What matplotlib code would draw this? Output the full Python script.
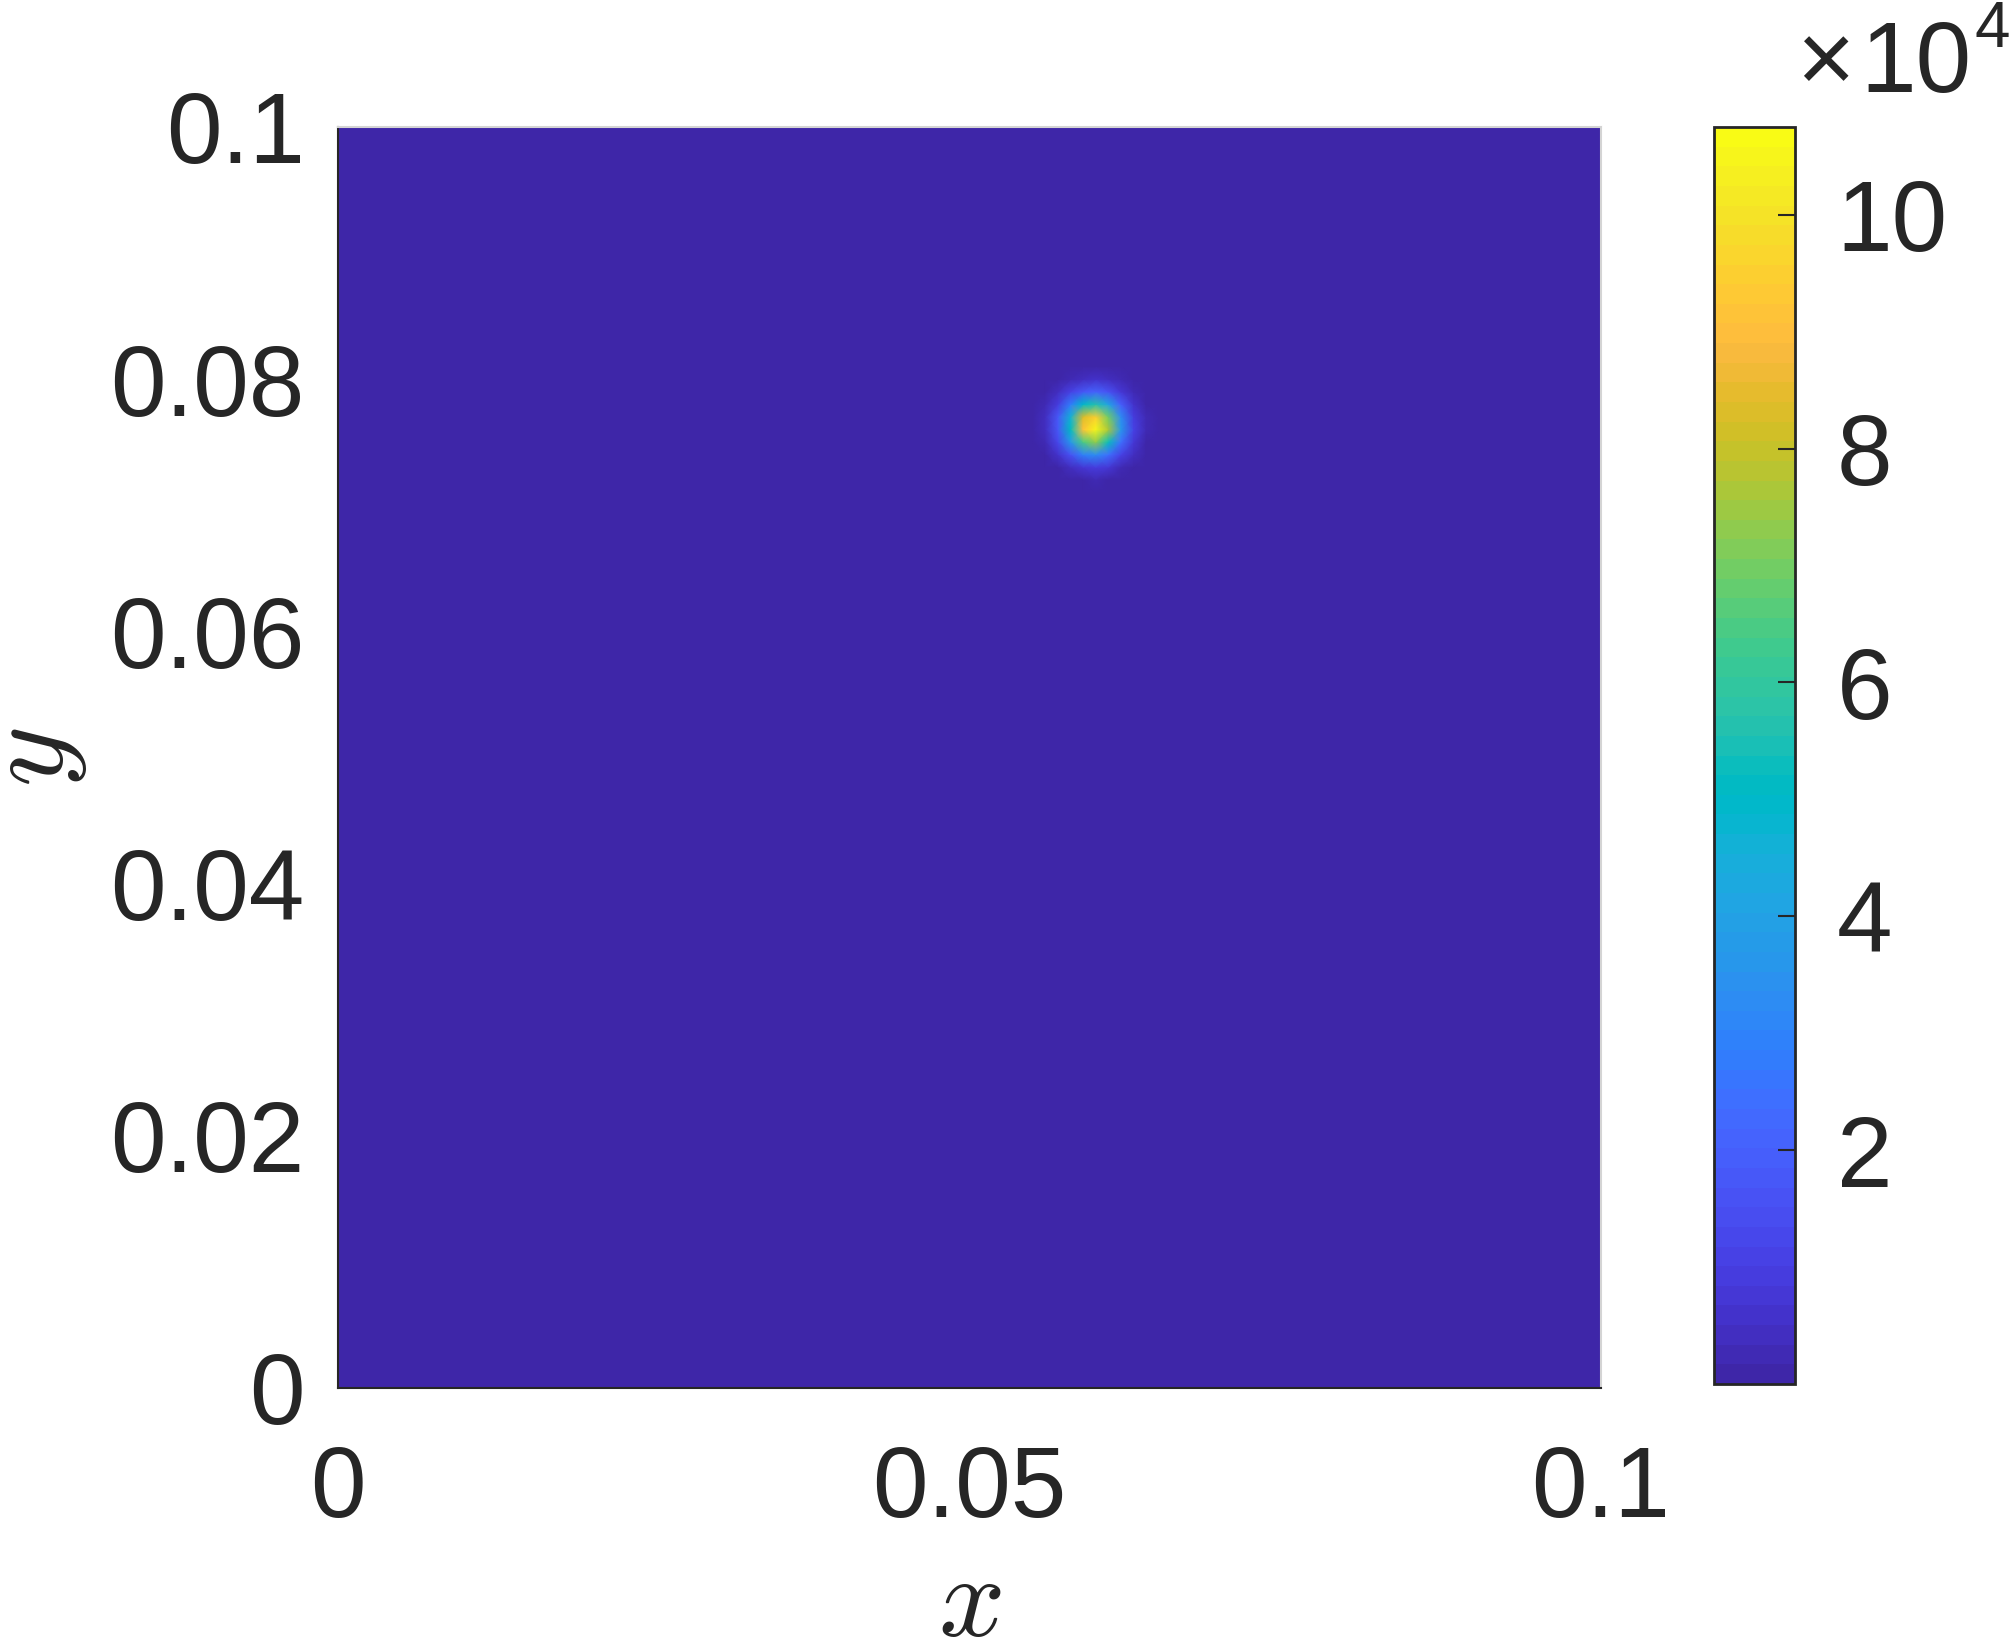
import numpy as np
import matplotlib
matplotlib.use('Agg')
import matplotlib.pyplot as plt
from matplotlib.colors import ListedColormap

plt.rcParams['font.family'] = ['Liberation Sans', 'DejaVu Sans']
plt.rcParams['mathtext.fontset'] = 'cm'

# parula (64 colours, as in MATLAB)
parula_rgb = [
    [0.2422, 0.1504, 0.6603], [0.2504, 0.1650, 0.7076], [0.2578, 0.1818, 0.7511], [0.2647, 0.1978, 0.7952],
    [0.2706, 0.2147, 0.8364], [0.2751, 0.2342, 0.8710], [0.2783, 0.2559, 0.8991], [0.2803, 0.2782, 0.9221],
    [0.2813, 0.3006, 0.9414], [0.2810, 0.3228, 0.9579], [0.2795, 0.3447, 0.9717], [0.2760, 0.3667, 0.9829],
    [0.2699, 0.3892, 0.9906], [0.2602, 0.4123, 0.9952], [0.2440, 0.4358, 0.9988], [0.2206, 0.4603, 0.9973],
    [0.1963, 0.4847, 0.9892], [0.1834, 0.5074, 0.9798], [0.1786, 0.5289, 0.9682], [0.1764, 0.5499, 0.9520],
    [0.1687, 0.5703, 0.9359], [0.1540, 0.5902, 0.9218], [0.1460, 0.6091, 0.9079], [0.1380, 0.6276, 0.8973],
    [0.1248, 0.6459, 0.8883], [0.1113, 0.6635, 0.8763], [0.0952, 0.6798, 0.8598], [0.0689, 0.6948, 0.8394],
    [0.0297, 0.7082, 0.8163], [0.0036, 0.7203, 0.7917], [0.0067, 0.7312, 0.7660], [0.0433, 0.7411, 0.7394],
    [0.0964, 0.7500, 0.7120], [0.1408, 0.7584, 0.6842], [0.1717, 0.7670, 0.6554], [0.1938, 0.7758, 0.6251],
    [0.2161, 0.7843, 0.5923], [0.2470, 0.7918, 0.5567], [0.2906, 0.7973, 0.5188], [0.3406, 0.8008, 0.4789],
    [0.3909, 0.8029, 0.4354], [0.4456, 0.8024, 0.3909], [0.5044, 0.7993, 0.3480], [0.5616, 0.7942, 0.3045],
    [0.6174, 0.7876, 0.2612], [0.6720, 0.7793, 0.2227], [0.7242, 0.7698, 0.1910], [0.7738, 0.7598, 0.1646],
    [0.8203, 0.7498, 0.1535], [0.8634, 0.7406, 0.1596], [0.9035, 0.7330, 0.1774], [0.9393, 0.7288, 0.2100],
    [0.9728, 0.7298, 0.2394], [0.9956, 0.7434, 0.2371], [0.9970, 0.7659, 0.2199], [0.9952, 0.7893, 0.2028],
    [0.9892, 0.8136, 0.1885], [0.9786, 0.8386, 0.1766], [0.9676, 0.8639, 0.1643], [0.9610, 0.8890, 0.1537],
    [0.9597, 0.9135, 0.1423], [0.9628, 0.9373, 0.1265], [0.9691, 0.9606, 0.1064], [0.9769, 0.9839, 0.0805]]
parula = ListedColormap(parula_rgb)

# data: one narrow peak on a flat field
domain_size = 0.1
grid_step = 0.001
peak_value = 10.75e4
peak_x = 0.0598
peak_y = 0.0763
peak_width = 0.0015
cbar_min = 0.0
cbar_max = 10.75e4

x_ticks = [0, 0.05, 0.1]
x_ticklabels = ['0', '0.05', '0.1']
y_ticks = [0, 0.02, 0.04, 0.06, 0.08, 0.1]
y_ticklabels = ['0', '0.02', '0.04', '0.06', '0.08', '0.1']
cbar_ticks = [2e4, 4e4, 6e4, 8e4, 1e5]
cbar_ticklabels = ['2', '4', '6', '8', '10']

xs = np.arange(0, domain_size + grid_step / 2, grid_step)
X, Y = np.meshgrid(xs, xs)
Z = peak_value * np.exp(-((X - peak_x)**2 + (Y - peak_y)**2) / (2 * peak_width**2))

txt = '#262626'
fs = 72
fig = plt.figure(figsize=(20.13, 16.48), dpi=100)
ax = fig.add_axes([0.1679, 0.1578, 0.6274, 0.7652])
mesh = ax.pcolormesh(X, Y, Z, cmap=parula, vmin=cbar_min, vmax=cbar_max, shading='gouraud')
ax.set_xlim(0, domain_size)
ax.set_ylim(0, domain_size)
ax.set_xticks(x_ticks)
ax.set_xticklabels(x_ticklabels)
ax.set_yticks(y_ticks)
ax.set_yticklabels(y_ticklabels)
ax.tick_params(length=0, labelsize=fs, colors=txt)
ax.tick_params(axis='x', pad=40)
ax.tick_params(axis='y', pad=24)
for s in ['left', 'bottom']:
    ax.spines[s].set_color(txt)
    ax.spines[s].set_linewidth(1.5)
for s in ['top', 'right']:
    ax.spines[s].set_color('#d4d4d4')
    ax.spines[s].set_linewidth(1.5)
ax.set_xlabel(r'$x$', fontsize=84, color=txt, labelpad=10)
ax.set_ylabel(r'$y$', fontsize=84, color=txt, labelpad=15)

cax = fig.add_axes([0.8515, 0.1602, 0.0402, 0.7627])
cb = fig.colorbar(mesh, cax=cax)
cb.set_ticks(cbar_ticks)
cb.set_ticklabels(cbar_ticklabels)
cax.tick_params(direction='in', length=12, width=1.5, labelsize=fs, colors=txt, pad=30)
cb.outline.set_edgecolor(txt)
cb.outline.set_linewidth(2)

# exponent label above the colour bar
fig.text(1796 / 2013, 1 - 92 / 1648, '×', fontsize=fs, color=txt, ha='left', va='baseline')
fig.text(1860 / 2013, 1 - 92 / 1648, '10', fontsize=fs, color=txt, ha='left', va='baseline')
fig.text(1974 / 2013, 1 - 47 / 1648, '4', fontsize=46, color=txt, ha='left', va='baseline')

plt.savefig('out.png', dpi=100)
